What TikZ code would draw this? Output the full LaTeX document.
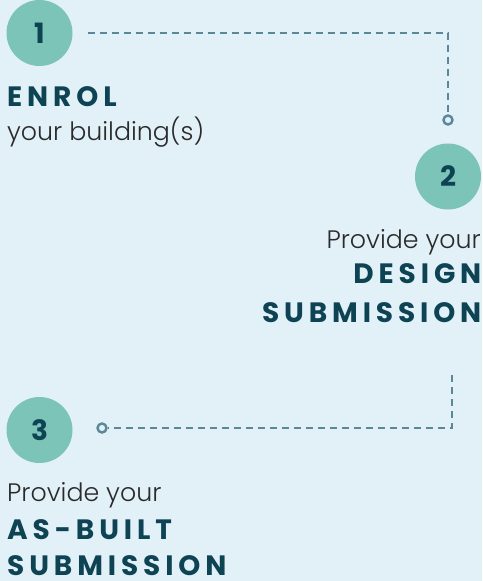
\documentclass[tikz,border=0pt]{standalone}
\usepackage{fontspec}
\setmainfont{Poppins}
\newfontfamily\stepfont[LetterSpace=17.5]{Poppins}
\newfontfamily\bodyfont{Poppins Light}
\definecolor{bgblue}{HTML}{E2F0F8}
\definecolor{stepteal}{HTML}{7CC4B8}
\definecolor{stepdark}{HTML}{0E4354}
\definecolor{dashgrey}{HTML}{5A8898}
\definecolor{bodytext}{HTML}{2A2A2A}

\begin{document}
\begin{tikzpicture}
  [x=1pt,y=-1pt,
   num/.style={circle,fill=stepteal,minimum size=66pt,inner sep=0pt,text=stepdark,font=\fontsize{28}{28}\selectfont\bfseries},
   head/.style={inner sep=0pt,text=stepdark,font=\fontsize{28}{28}\selectfont\stepfont\bfseries},
   body/.style={inner sep=0pt,text=bodytext,font=\fontsize{25.3}{25.3}\selectfont\bodyfont},
   link/.style={dashgrey,line width=2.6pt,dash pattern=on 7pt off 5pt},
   knob/.style={circle,draw=dashgrey,line width=2.4pt,fill=bgblue,minimum size=9pt,inner sep=0pt}]
  \fill[bgblue] (0,0) rectangle (482,581);
  \useasboundingbox (0,0) rectangle (482,581);

  \node (n1)[num] at (39.5,33) {1};
  \node (n2)[num] at (448,176.5) {2};
  \node (n3)[num] at (39.5,430) {3};

  \node (enrol)[head,anchor=base west] at (7,106) {ENROL};
  \node (enrolb)[body,anchor=base west] at (7,140) {your building(s)};
  \node (prov2)[body,anchor=base east] at (481,248) {Provide your};
  \node (design)[head,anchor=base east] at (481.5,283) {DESIGN};
  \node (dsub)[head,anchor=base east] at (481.5,322) {SUBMISSION};
  \node (prov3)[body,anchor=base west] at (7,501) {Provide your};
  \node (asb)[head,anchor=base west] at (7,539) {AS-BUILT};
  \node (asub)[head,anchor=base west] at (7,575) {SUBMISSION};

  \coordinate (c1) at (448,33);
  \node (k1)[knob] at (448,120) {};
  \coordinate (s2) at (452,375);
  \coordinate (c2) at (452,428);
  \node (k2)[knob] at (102,428) {};

  \draw[link,shorten <=15pt] (n1) -- (c1) -- (k1);
  \draw[link] (s2) -- (c2) -- (k2);

\end{tikzpicture}
\end{document}
